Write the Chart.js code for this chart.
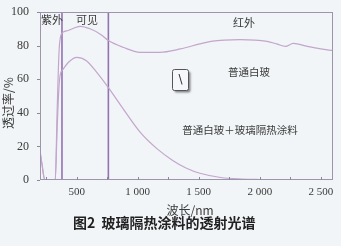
<!DOCTYPE html>
<html>
<head>
<meta charset="utf-8">
<script src="https://cdn.jsdelivr.net/npm/chart.js@4"></script>
<style>
  html, body { margin: 0; padding: 0; background: #f1f5f7; }
  canvas { display: block; }
</style>
</head>
<body>
<canvas id="chart" width="341" height="246"></canvas>
<script>
  // Transmissionsspektren
  const glassNm = [200, 215, 240, 325, 340, 355, 365, 390, 430, 480, 530, 610, 700, 760, 880, 1020, 1180, 1350, 1510, 1600, 1840, 2060, 2140, 2210, 2275, 2390, 2500, 2600];
  const glassT  = [17, 10, 0, 0, 40, 75, 84, 88, 89, 90.5, 91.5, 90, 86.5, 83, 79, 76, 76, 78, 81, 82.5, 83.5, 82.5, 81, 79.5, 81.3, 79.5, 78, 77];

  const coatNm = [200, 215, 240, 325, 340, 355, 365, 390, 440, 500, 580, 660, 760, 880, 1020, 1160, 1290, 1400, 1510, 1680, 1850, 2000, 2300, 2600];
  const coatT  = [17, 10, 0, 0, 30, 55, 62.5, 66, 70.5, 73, 71, 64.5, 55, 42.5, 28.5, 18.5, 11.5, 7, 4, 1.5, 0.6, 0.3, 0, 0];

  const regionBounds = [380, 760];          // UV | sichtbar | IR
  const xTicks = [500, 1000, 1500, 2000, 2500];

  const CURVE = "#c3a6cb";
  const BOUND = "#9272b2";
  const FRAME = "#9d94ad";
  const TXT = "#3a3a3a";
  const SERIF = '"Liberation Serif", "Times New Roman", serif';

  function pts(xs, ys) { return xs.map((x, i) => ({ x, y: ys[i] })); }

  const datasets = [
    { data: pts(glassNm, glassT), borderColor: CURVE, borderWidth: 1.2, cubicInterpolationMode: "monotone" },
    { data: pts(coatNm, coatT), borderColor: CURVE, borderWidth: 1.2, cubicInterpolationMode: "monotone" },
  ].concat(regionBounds.map((b) => ({
    data: [{ x: b, y: 0 }, { x: b, y: 100 }], borderColor: BOUND, borderWidth: 1.6,
  })));

  const decor = {
    id: "decor",
    beforeDraw(c) {
      const g = c.ctx;
      g.save();
      g.fillStyle = "#f1f5f7";
      g.fillRect(0, 0, c.width, c.height);
      g.restore();
    },
    afterDraw(c) {
      const g = c.ctx, a = c.chartArea, sx = c.scales.x, sy = c.scales.y;
      g.save();
      // Rahmen
      g.strokeStyle = FRAME; g.lineWidth = 1;
      g.strokeRect(a.left + 0.5, a.top + 0.5, a.right - a.left - 1, a.bottom - a.top - 1);
      // Teilstriche
      g.strokeStyle = "#8a8a96";
      for (let v = 250; v <= 2500; v += 250) {
        const px = Math.round(sx.getPixelForValue(v)) + 0.5;
        g.beginPath(); g.moveTo(px, a.bottom); g.lineTo(px, a.bottom - 3); g.stroke();
      }
      for (let v = 0; v <= 100; v += 20) {
        const py = Math.round(sy.getPixelForValue(v)) + 0.5;
        g.beginPath(); g.moveTo(a.left - 3, py); g.lineTo(a.left, py); g.stroke();
      }
      // Bereichsbeschriftungen
      g.fillStyle = TXT; g.textAlign = "center"; g.textBaseline = "middle";
      g.font = '11px "Noto Sans CJK SC"';
      g.fillText("紫外", 52, 20);
      g.fillText("可见", 87, 20);
      g.fillText("红外", 244, 23);
      g.font = '10.5px "Noto Sans CJK SC"';
      g.fillText("普通白玻", 249, 72);
      g.fillText("普通白玻＋玻璃隔热涂料", 240, 130);
      // kleines Kästchen
      g.shadowColor = "rgba(0,0,0,0.45)"; g.shadowOffsetX = 2; g.shadowOffsetY = 2; g.shadowBlur = 2;
      g.fillStyle = "#f6f7fa"; g.strokeStyle = "#555";
      g.beginPath(); g.roundRect(172.5, 69.5, 16, 21, 2); g.fill();
      g.shadowColor = "transparent"; g.stroke();
      g.fillStyle = "#333"; g.font = '12px "DejaVu Sans"';
      g.fillText("\\", 180.5, 80);
      // Achsentitel
      g.font = '12px "Noto Sans CJK SC"'; g.fillStyle = TXT;
      g.fillText("波长/nm", 190, 210);
      g.save();
      g.translate(8, 103); g.rotate(-Math.PI / 2);
      g.fillText("透过率/%", 0, 0);
      g.restore();
      // Bildunterschrift
      g.font = 'bold 14px "Noto Sans CJK SC"'; g.fillStyle = "#222";
      g.textAlign = "left";
      g.fillText("图2  玻璃隔热涂料的透射光谱", 73, 223);
      g.restore();
    },
  };

  new Chart(document.getElementById("chart"), {
    type: "line",
    data: { datasets },
    options: {
      responsive: false, animation: false, devicePixelRatio: 1,
      layout: { padding: { left: 0, top: 12, right: 8, bottom: 0 } },
      elements: { point: { radius: 0 } },
      plugins: { legend: { display: false }, tooltip: { enabled: false } },
      scales: {
        x: {
          type: "linear", min: 200, max: 2600,
          afterBuildTicks: (s) => { s.ticks = xTicks.map((v) => ({ value: v })); },
          afterFit: (s) => { s.height = 66; },
          grid: { display: false }, border: { display: false },
          ticks: {
            padding: -2, color: TXT, autoSkip: false, maxRotation: 0,
            font: { family: SERIF, size: 11 },
            callback: (v) => (v >= 1000 ? Math.floor(v / 1000) + " " + String(v % 1000).padStart(3, "0") : String(v)),
          },
        },
        y: {
          min: 0, max: 100,
          afterFit: (s) => { s.width = 40; },
          grid: { display: false }, border: { display: false },
          ticks: { stepSize: 20, padding: 3, color: TXT, font: { family: SERIF, size: 12 } },
        },
      },
    },
    plugins: [decor],
  });
</script>
</body>
</html>
